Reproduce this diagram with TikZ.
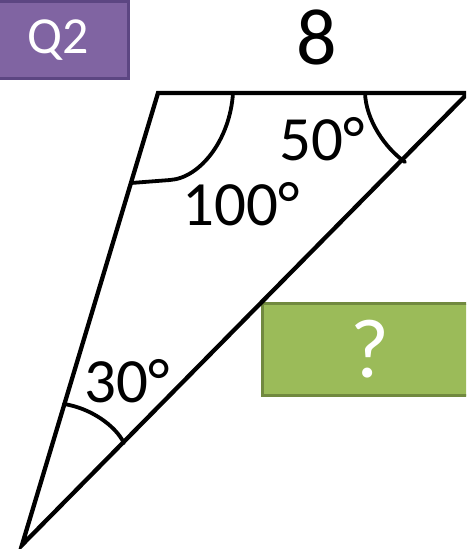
\documentclass[tikz,border=0pt]{standalone}
\usepackage{fontspec}
\setmainfont{Carlito}
\begin{document}
\begin{tikzpicture}[x=1pt,y=-1pt,
  edge/.style={line width=4.3pt, line join=miter, black},
  arcline/.style={line width=3.8pt, black, line cap=round},
  lbl/.style={font=\fontsize{63}{63}\selectfont, inner sep=0pt, anchor=center},
  qbox/.style={rectangle, fill=qfill, draw=qdraw, line width=3pt, text=white,
    minimum width=140pt, minimum height=77pt, inner sep=0pt,
    font=\fontsize{52}{52}\selectfont},
  abox/.style={rectangle, fill=afill, draw=adraw, line width=3pt, text=white,
    minimum width=216pt, minimum height=92pt, inner sep=0pt,
    font=\fontsize{84}{84}\selectfont}]
\definecolor{qfill}{HTML}{8064A2}
\definecolor{qdraw}{HTML}{5C4682}
\definecolor{afill}{HTML}{9BBB59}
\definecolor{adraw}{HTML}{71893F}
\useasboundingbox (0,0) rectangle (466,549);
\begin{scope}
\clip (0,0) rectangle (466,549);
\node[qbox] (q2) at (58,40) {Q2};
\node[abox] (ans) at (370,349.5) {?};
\coordinate (A) at (158,93);
\coordinate (B) at (468,93);
\coordinate (C) at (22,545);
\draw[edge] (B) -- (A) -- (C) -- cycle;
\coordinate (a1) at (233,93);
\coordinate (a2) at (131,183);
\draw[arcline] (a1) .. controls (230,140) and (200,178) .. (170,180) -- (a2);
\coordinate (b1) at (365,93);
\coordinate (b2) at (405,162);
\draw[arcline] (b1) .. controls (366,120) and (385,148) .. (b2);
\coordinate (c1) at (64,404);
\coordinate (c2) at (124,443);
\draw[arcline] (c1) .. controls (90,408) and (115,425) .. (c2);
\node[lbl, font=\fontsize{80}{80}\selectfont] (eight) at (317,37) {8};
\node[lbl] (l50) at (322,139) {50°};
\node[lbl] (l100) at (241,204) {100°};
\node[lbl] (l30) at (127,381) {30°};
\end{scope}
\end{tikzpicture}
\end{document}
